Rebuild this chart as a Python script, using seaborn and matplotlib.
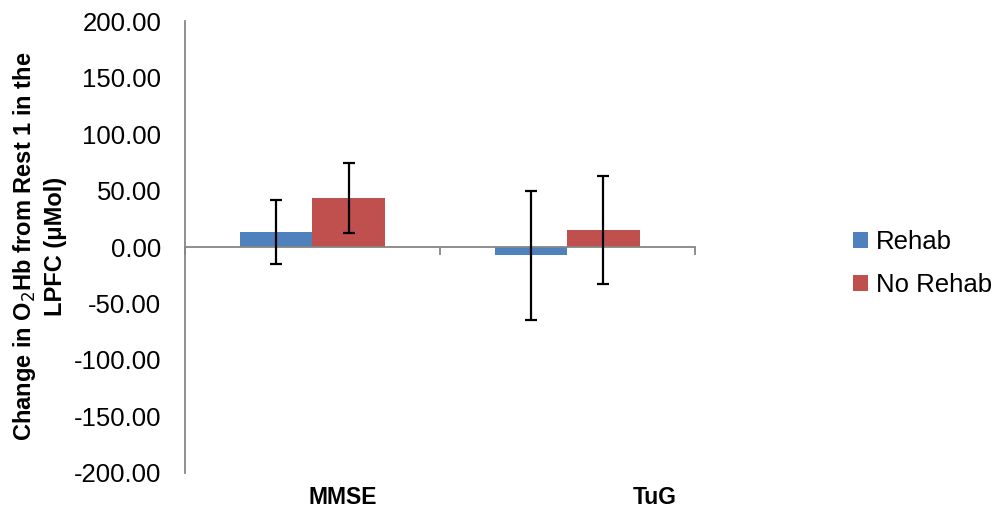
import numpy as np
import pandas as pd
import matplotlib
matplotlib.use("Agg")
import matplotlib.pyplot as plt
import matplotlib.transforms as mtransforms
import seaborn as sns

# chart data
categories = ["MMSE", "TuG"]
groups = ["Rehab", "No Rehab"]
rehab_means = [13.5, -7.4]
no_rehab_means = [43.6, 15.0]
rehab_err = [28.2, 57.4]
no_rehab_err = [31.1, 48.1]
label_shift = [0.12, 0.345]
yticks = [-200, -150, -100, -50, 0, 50, 100, 150, 200]
colors = ["#4F81BD", "#C0504D"]

sns.set_style("white")
plt.rcParams["font.family"] = ["Liberation Sans", "DejaVu Sans"]
plt.rcParams["text.color"] = "black"
plt.rcParams["ytick.color"] = "black"
plt.rcParams["xtick.color"] = "black"

df = pd.DataFrame({
    "category": categories * 2,
    "group": [groups[0]] * 2 + [groups[1]] * 2,
    "value": rehab_means + no_rehab_means,
})
errs = [rehab_err, no_rehab_err]

fig = plt.figure(figsize=(9.95, 5.13), dpi=100)
ax = fig.add_axes([0.186, 0.078, 0.512, 0.881])

sns.barplot(data=df, x="category", y="value", hue="group", order=categories,
            hue_order=groups, palette=colors, width=0.57, errorbar=None,
            saturation=1, linewidth=0, ax=ax)

# error bars at bar centres
for cont, err in zip(ax.containers, errs):
    xs = [b.get_x() + b.get_width() / 2 for b in cont]
    ys = [b.get_y() + b.get_height() for b in cont]
    ax.errorbar(xs, ys, yerr=err, fmt="none", ecolor="black", elinewidth=1.6,
                capsize=4, capthick=1.6, zorder=5)

ax.set_ylim(-200, 200)
ax.set_xlim(-0.5, 1.5)
ax.set_yticks(yticks)
ax.set_yticklabels([f"{v:.2f}" for v in yticks])
ax.set_xticks([-0.5, 0.5, 1.5])
ax.set_xticklabels(["", "", ""])
ax.set_xlabel("")
ax.set_ylabel("")

spine_col = "#868686"
for s in ["top", "right"]:
    ax.spines[s].set_visible(False)
ax.spines["left"].set_color(spine_col)
ax.spines["bottom"].set_color(spine_col)
ax.spines["left"].set_linewidth(1.3)
ax.spines["bottom"].set_linewidth(1.3)
ax.spines["bottom"].set_position(("data", 0))
ax.tick_params(axis="y", direction="out", length=6, color=spine_col,
               width=1.3, labelsize=18.5, pad=11, labelcolor="black")
ax.tick_params(axis="x", direction="out", length=6, color=spine_col, width=1.3)
ax.tick_params(axis="x", which="both", bottom=True)

# category labels sit under the plot
trans = mtransforms.blended_transform_factory(ax.transData, fig.transFigure)
for i, (cat, sh) in enumerate(zip(categories, label_shift)):
    ax.text(i + sh, 0.030, cat, transform=trans, ha="center", va="center",
            fontsize=16.5, fontweight="bold", color="black")

fig.text(0.039, 0.519, "Change in O$_2$Hb from Rest 1 in the\nLPFC (\u03bcMol)",
         rotation=90, ha="center", va="center", fontsize=17,
         fontweight="bold", linespacing=1.35, color="black")

handles, labels = ax.get_legend_handles_labels()
leg = ax.legend(handles, labels, loc="center left", bbox_to_anchor=(0.834, 0.486),
                bbox_transform=fig.transFigure, frameon=False, fontsize=18.5,
                handlelength=0.6, handleheight=0.6, handletextpad=0.3,
                labelspacing=0.75)
for t in leg.get_texts():
    t.set_color("black")

fig.savefig("out.png", dpi=100)
